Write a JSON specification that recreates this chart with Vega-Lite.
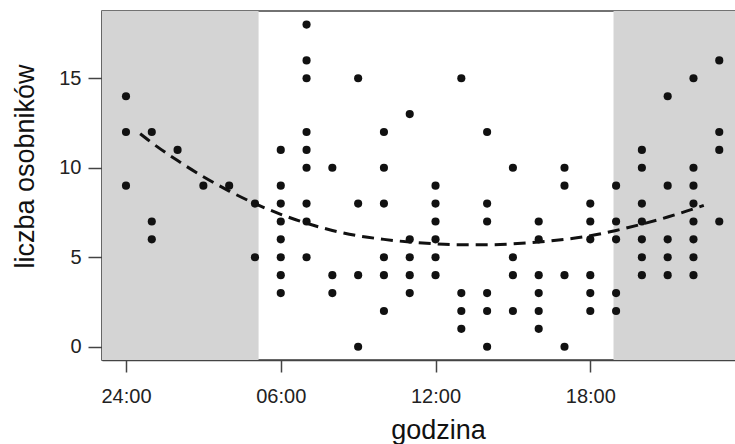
{
  "$schema": "https://vega.github.io/schema/vega-lite/v6.json",
  "autosize": {"type": "none"},
  "padding": {"left": 102, "top": 11, "right": 0, "bottom": 84},
  "width": 641,
  "height": 349,
  "background": "white",
  "config": {
    "view": {"stroke": "#444", "strokeWidth": 1.5},
    "font": "Liberation Sans",
    "axis": {"grid": false, "domainColor": "#444", "domainWidth": 1.5, "tickColor": "#444", "tickWidth": 1.5, "labelColor": "#222", "titleColor": "#111", "labelFont": "Liberation Sans", "titleFont": "Liberation Sans", "titleFontWeight": "normal"}
  },
  "datasets": {
    "night": [
      {"start": -0.93, "end": 5.14},
      {"start": 18.9, "end": 24.5}
    ],
    "points": [
      {"h": 0, "n": 14}, {"h": 0, "n": 12}, {"h": 0, "n": 9},
      {"h": 1, "n": 12}, {"h": 1, "n": 7}, {"h": 1, "n": 6},
      {"h": 2, "n": 11},
      {"h": 3, "n": 9},
      {"h": 4, "n": 9},
      {"h": 5, "n": 8}, {"h": 5, "n": 5},
      {"h": 6, "n": 11}, {"h": 6, "n": 9}, {"h": 6, "n": 8}, {"h": 6, "n": 7}, {"h": 6, "n": 6}, {"h": 6, "n": 5}, {"h": 6, "n": 4}, {"h": 6, "n": 3},
      {"h": 7, "n": 18}, {"h": 7, "n": 16}, {"h": 7, "n": 15}, {"h": 7, "n": 12}, {"h": 7, "n": 11}, {"h": 7, "n": 10}, {"h": 7, "n": 8}, {"h": 7, "n": 7}, {"h": 7, "n": 5},
      {"h": 8, "n": 10}, {"h": 8, "n": 4}, {"h": 8, "n": 3},
      {"h": 9, "n": 15}, {"h": 9, "n": 8}, {"h": 9, "n": 4}, {"h": 9, "n": 0},
      {"h": 10, "n": 12}, {"h": 10, "n": 10}, {"h": 10, "n": 8}, {"h": 10, "n": 5}, {"h": 10, "n": 4}, {"h": 10, "n": 2},
      {"h": 11, "n": 13}, {"h": 11, "n": 6}, {"h": 11, "n": 5}, {"h": 11, "n": 4}, {"h": 11, "n": 3},
      {"h": 12, "n": 9}, {"h": 12, "n": 8}, {"h": 12, "n": 7}, {"h": 12, "n": 6}, {"h": 12, "n": 5}, {"h": 12, "n": 4},
      {"h": 13, "n": 15}, {"h": 13, "n": 3}, {"h": 13, "n": 2}, {"h": 13, "n": 1},
      {"h": 14, "n": 12}, {"h": 14, "n": 8}, {"h": 14, "n": 7}, {"h": 14, "n": 3}, {"h": 14, "n": 2}, {"h": 14, "n": 0},
      {"h": 15, "n": 10}, {"h": 15, "n": 5}, {"h": 15, "n": 4}, {"h": 15, "n": 2},
      {"h": 16, "n": 7}, {"h": 16, "n": 6}, {"h": 16, "n": 4}, {"h": 16, "n": 3}, {"h": 16, "n": 2}, {"h": 16, "n": 1},
      {"h": 17, "n": 10}, {"h": 17, "n": 9}, {"h": 17, "n": 4}, {"h": 17, "n": 0},
      {"h": 18, "n": 8}, {"h": 18, "n": 7}, {"h": 18, "n": 6}, {"h": 18, "n": 4}, {"h": 18, "n": 3}, {"h": 18, "n": 2},
      {"h": 19, "n": 9}, {"h": 19, "n": 7}, {"h": 19, "n": 6}, {"h": 19, "n": 3}, {"h": 19, "n": 2},
      {"h": 20, "n": 11}, {"h": 20, "n": 10}, {"h": 20, "n": 8}, {"h": 20, "n": 7}, {"h": 20, "n": 6}, {"h": 20, "n": 5}, {"h": 20, "n": 4},
      {"h": 21, "n": 14}, {"h": 21, "n": 9}, {"h": 21, "n": 6}, {"h": 21, "n": 5}, {"h": 21, "n": 4},
      {"h": 22, "n": 15}, {"h": 22, "n": 10}, {"h": 22, "n": 9}, {"h": 22, "n": 8}, {"h": 22, "n": 7}, {"h": 22, "n": 6}, {"h": 22, "n": 5}, {"h": 22, "n": 4},
      {"h": 23, "n": 16}, {"h": 23, "n": 12}, {"h": 23, "n": 11}, {"h": 23, "n": 7}
    ],
    "fit": [
      {"h": 0.55, "n": 11.9}, {"h": 1, "n": 11.4}, {"h": 2, "n": 10.4}, {"h": 3, "n": 9.5},
      {"h": 4, "n": 8.7}, {"h": 5, "n": 8.0}, {"h": 6, "n": 7.4}, {"h": 7, "n": 6.9},
      {"h": 8, "n": 6.5}, {"h": 9, "n": 6.2}, {"h": 10, "n": 6.0}, {"h": 11, "n": 5.85},
      {"h": 12, "n": 5.75}, {"h": 13, "n": 5.7}, {"h": 14, "n": 5.7}, {"h": 15, "n": 5.75},
      {"h": 16, "n": 5.85}, {"h": 17, "n": 6.0}, {"h": 18, "n": 6.2}, {"h": 19, "n": 6.5},
      {"h": 20, "n": 6.85}, {"h": 21, "n": 7.25}, {"h": 22, "n": 7.7}, {"h": 22.4, "n": 7.9}
    ]
  },
  "layer": [
    {
      "data": {"name": "night"},
      "mark": {"type": "rect", "color": "#d4d4d4", "clip": true},
      "encoding": {
        "x": {"field": "start", "type": "quantitative", "scale": {"domain": [-0.93, 23.92], "nice": false, "zero": false}},
        "x2": {"field": "end"}
      }
    },
    {
      "data": {"name": "points"},
      "mark": {"type": "point", "filled": true, "color": "#111", "size": 66, "opacity": 1},
      "encoding": {
        "x": {"field": "h", "type": "quantitative",
          "axis": {"values": [0, 6, 12, 18], "labelExpr": "datum.value == 0 ? '24:00' : datum.value == 6 ? '06:00' : datum.value == 12 ? '12:00' : '18:00'", "labelFontSize": 20, "tickSize": 12, "labelPadding": 14, "labelBaseline": "top", "title": "godzina", "titleFontSize": 27, "titleX": 336, "titleY": 78, "titleAlign": "center", "titleBaseline": "alphabetic", "titleAnchor": null}},
        "y": {"field": "n", "type": "quantitative",
          "scale": {"domain": [-0.74, 18.76], "nice": false, "zero": false},
          "axis": {"values": [0, 5, 10, 15], "labelFontSize": 20, "tickSize": 14, "labelPadding": 7, "title": "liczba osobników", "titleFontSize": 27, "titleX": -69, "titleY": 155, "titleAlign": "center", "titleBaseline": "alphabetic", "titleAngle": -90, "titleAnchor": null}}
      }
    },
    {
      "data": {"name": "fit"},
      "mark": {"type": "line", "color": "#111", "strokeWidth": 3, "strokeDash": [12, 7], "interpolate": "monotone"},
      "encoding": {
        "x": {"field": "h", "type": "quantitative"},
        "y": {"field": "n", "type": "quantitative"}
      }
    }
  ]
}
